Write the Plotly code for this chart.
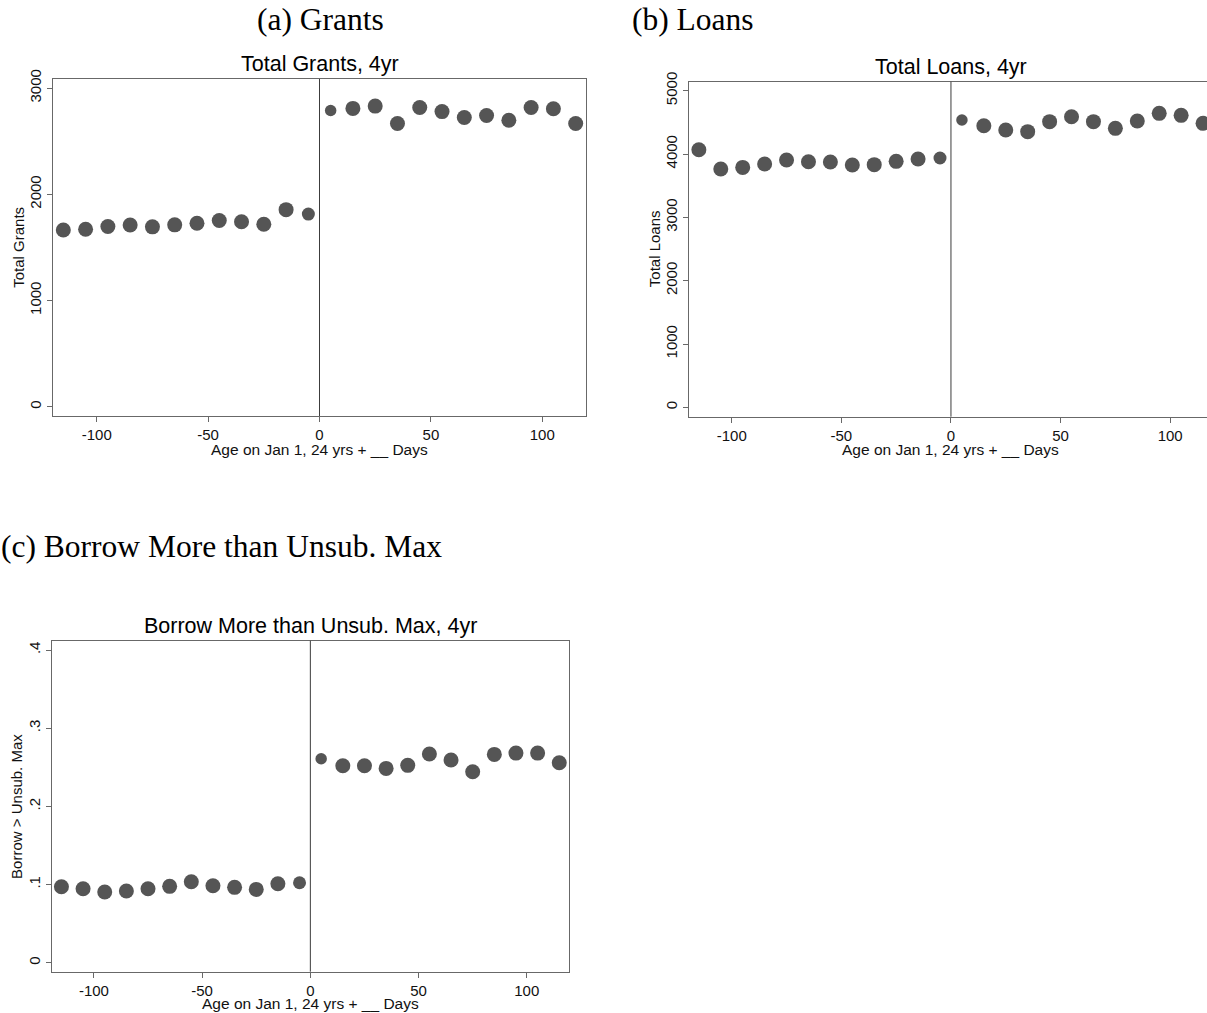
import plotly.graph_objects as go

# Days relative to the 24th birthday cutoff (bin midpoints)
age_bins = [-115, -105, -95, -85, -75, -65, -55, -45, -35, -25, -15, -5,
            5, 15, 25, 35, 45, 55, 65, 75, 85, 95, 105, 115]

# Total grants, 4yr
total_grants = [1664, 1670, 1697, 1710, 1693, 1712, 1727, 1753, 1741, 1717, 1855, 1813,
                2788, 2808, 2830, 2666, 2816, 2778, 2722, 2741, 2696, 2816, 2805, 2666]

# Total loans, 4yr
total_loans = [4068, 3763, 3789, 3842, 3905, 3879, 3874, 3826, 3832, 3884, 3921, 3937,
               4537, 4447, 4379, 4353, 4511, 4589, 4511, 4405, 4521, 4642, 4611, 4484]

# Share borrowing more than the unsubsidized maximum, 4yr
borrow_over_max = [0.0972, 0.0947, 0.0904, 0.0917, 0.0947, 0.0977, 0.1036, 0.0985,
                   0.0964, 0.0938, 0.1011, 0.1023, 0.2610, 0.2520, 0.2520, 0.2486,
                   0.2525, 0.2670, 0.2593, 0.2443, 0.2665, 0.2682, 0.2682, 0.2559]

x_ticks = [-100, -50, 0, 50, 100]
x_tick_text = ["-100", "-50", "0", "50", "100"]
grant_ticks = [0, 1000, 2000, 3000]
loan_ticks = [0, 1000, 2000, 3000, 4000, 5000]
share_ticks = [0, 0.1, 0.2, 0.3, 0.4]
share_tick_text = ["0", ".1", ".2", ".3", ".4"]

# Marker diameters (bins next to the cutoff hold fewer observations)
marker_px = [15, 15, 15, 15, 15, 15, 15, 15, 15, 15, 15, 13,
             11.5, 15, 15, 15, 15, 15, 15, 15, 15, 15, 15, 15]

W, H = 1207, 1013
SANS = "Liberation Sans, Arial, sans-serif"
SERIF = "Liberation Serif, Times New Roman, serif"
DOT = "#555555"
FRAME = "#686868"


def px_x(p):
    return p / W


def px_y(p):
    return 1 - p / H


fig = go.Figure()
panels = [
    ("x", "y", total_grants),
    ("x2", "y2", total_loans),
    ("x3", "y3", borrow_over_max),
]
for xa, ya, vals in panels:
    fig.add_trace(go.Scatter(
        x=age_bins, y=vals, mode="markers", xaxis=xa, yaxis=ya, opacity=1,
        marker=dict(color=DOT, size=marker_px, opacity=1, line=dict(width=0)),
        showlegend=False, hoverinfo="x+y",
    ))

axis_common = dict(
    showgrid=False, zeroline=False, showline=True, linecolor=FRAME, linewidth=1.2,
    ticks="outside", ticklen=5, tickwidth=1, tickcolor=FRAME, automargin=False,
    tickfont=dict(family=SANS, size=15, color="#111"),
)

x_common = dict(axis_common, tickvals=x_ticks, ticktext=x_tick_text)

fig.update_layout(
    width=W, height=H, autosize=False,
    margin=dict(l=0, r=0, t=0, b=0, pad=0),
    paper_bgcolor="white", plot_bgcolor="white",
    font=dict(family=SANS, color="#111"),
    xaxis=dict(x_common, domain=[px_x(53.3), px_x(585.7)], range=[-119.5, 119.5],
               anchor="y", mirror=True),
    yaxis=dict(axis_common, domain=[px_y(416), px_y(79)], range=[-87.5, 3085],
               tickvals=grant_ticks, tickangle=-90, anchor="x", mirror=True),
    xaxis2=dict(x_common, domain=[px_x(689), 1.0], range=[-119.5, 116.8],
                anchor="y2", mirror=True),
    yaxis2=dict(axis_common, domain=[px_y(416.7), px_y(81.7)], range=[-148, 5142],
                tickvals=loan_ticks, tickangle=-90, anchor="x2", mirror=False),
    xaxis3=dict(x_common, domain=[px_x(51.7), px_x(569)], range=[-119.5, 119.5],
                anchor="y3", mirror=True),
    yaxis3=dict(axis_common, domain=[px_y(971.7), px_y(640.7)], range=[-0.0115, 0.412],
                tickvals=share_ticks, ticktext=share_tick_text, tickangle=-90,
                anchor="x3", mirror=True),
)

# Cutoff line at day 0 in each panel
for xa, ya in [("x", "y"), ("x2", "y2"), ("x3", "y3")]:
    fig.add_shape(type="line", xref=xa, yref=f"{ya} domain", x0=0, x1=0, y0=0, y1=1,
                  line=dict(color="#3c3c3c", width=1))

annotations = []

# Panel captions
captions = [
    ("(a) Grants", px_x(320), "center"),
    ("(b) Loans", px_x(693), "center"),
]
for text, xp, anchor in captions:
    annotations.append(dict(text=text, xref="paper", yref="paper", x=xp, y=px_y(20),
                            xanchor=anchor, yanchor="middle", showarrow=False,
                            font=dict(family=SERIF, size=31.5, color="#000")))
annotations.append(dict(text="(c) Borrow More than Unsub. Max", xref="paper", yref="paper",
                        x=px_x(444), y=px_y(546), xanchor="right", yanchor="middle",
                        showarrow=False, font=dict(family=SERIF, size=31.5, color="#000")))

# Graph titles, axis titles
graph_titles = ["Total Grants, 4yr", "Total Loans, 4yr", "Borrow More than Unsub. Max, 4yr"]
y_titles = ["Total Grants", "Total Loans", "Borrow > Unsub. Max"]
x_title_offsets = [-33, -33, -31.5]
for (xa, ya, _), title, ytitle, xoff in zip(panels, graph_titles, y_titles, x_title_offsets):
    annotations.append(dict(text=title, xref=xa, yref=f"{ya} domain", x=0, y=1,
                            yshift=15, xanchor="center", yanchor="middle", showarrow=False,
                            font=dict(family=SANS, size=21.5, color="#000")))
    annotations.append(dict(text="Age on Jan 1, 24 yrs + __ Days", xref=xa,
                            yref=f"{ya} domain", x=0, y=0, yshift=xoff,
                            xanchor="center", yanchor="middle", showarrow=False,
                            font=dict(family=SANS, size=15.5, color="#111")))
    annotations.append(dict(text=ytitle, xref=f"{xa} domain", yref=f"{ya} domain",
                            x=0, y=0.5, xshift=-35, textangle=-90,
                            xanchor="center", yanchor="middle", showarrow=False,
                            font=dict(family=SANS, size=15, color="#111")))

fig.update_layout(annotations=annotations)

fig.write_html("out.html")
